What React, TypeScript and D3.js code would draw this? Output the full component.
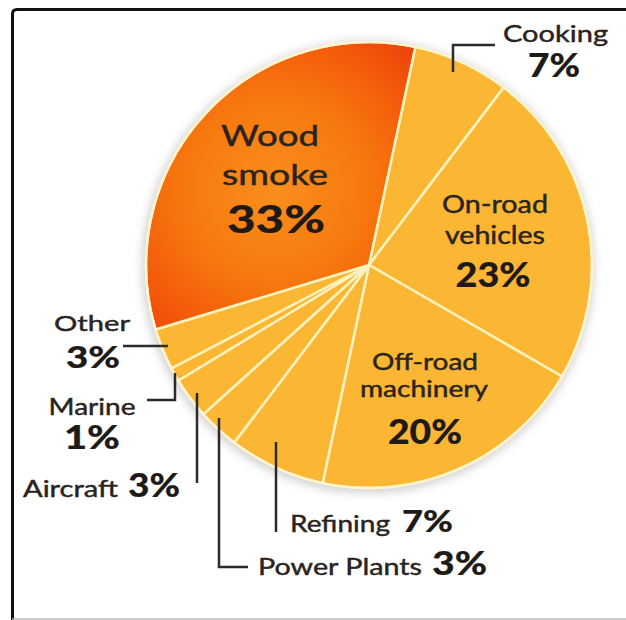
import React from "react";
import * as d3 from "d3";

const categories = [
  "Cooking",
  "On-road vehicles",
  "Off-road machinery",
  "Refining",
  "Power Plants",
  "Aircraft",
  "Marine",
  "Other",
  "Wood smoke",
];
const values = [7, 23, 20, 7, 3, 3, 1, 3, 33];

const W = 626;
const H = 620;
const CX = 369;
const CY = 265;
const R = 223;
const START_DEG = 12;

const FONT = "Lato, 'Open Sans', sans-serif";

type Piece = { t: string; x: number; y: number; w: number; fs: number; bold?: boolean; anchor?: string };

// annotation layout (name lines + percentage) per category, same order as categories
const nameLayout: { lines: { x: number; y: number; w: number; fs: number; anchor?: string }[]; pct: { x: number; y: number; w: number; fs: number; anchor?: string } }[] = [
  { lines: [{ x: 555.5, y: 42, w: 105, fs: 24 }], pct: { x: 554, y: 76.5, w: 52, fs: 33 } },
  { lines: [{ x: 495, y: 213, w: 106, fs: 25 }, { x: 495, y: 244, w: 100, fs: 25 }], pct: { x: 493, y: 287, w: 75, fs: 34 } },
  { lines: [{ x: 425, y: 370, w: 106, fs: 24 }, { x: 424, y: 397, w: 128, fs: 23 }], pct: { x: 425, y: 444, w: 74, fs: 34 } },
  { lines: [{ x: 290, y: 532, w: 100, fs: 24, anchor: "start" }], pct: { x: 402, y: 532, w: 51, fs: 31, anchor: "start" } },
  { lines: [{ x: 258, y: 575, w: 164, fs: 24, anchor: "start" }], pct: { x: 432, y: 575, w: 55, fs: 33, anchor: "start" } },
  { lines: [{ x: 23, y: 497, w: 95, fs: 24, anchor: "start" }], pct: { x: 128, y: 497, w: 52, fs: 33, anchor: "start" } },
  { lines: [{ x: 92, y: 415, w: 87, fs: 23 }], pct: { x: 92, y: 449, w: 56, fs: 32 } },
  { lines: [{ x: 92, y: 331, w: 76, fs: 22 }], pct: { x: 93, y: 367.5, w: 54, fs: 31 } },
  { lines: [{ x: 270, y: 146, w: 98, fs: 29 }, { x: 275, y: 185, w: 106, fs: 29 }], pct: { x: 276, y: 233, w: 98, fs: 37 } },
];

const lineBreaks: Record<string, string[]> = {
  "On-road vehicles": ["On-road", "vehicles"],
  "Off-road machinery": ["Off-road", "machinery"],
  "Wood smoke": ["Wood", "smoke"],
};

const leaders: string[] = [
  "M453,72 V45 H495",
  "",
  "",
  "M276,442 V532",
  "M219,418 V567 H248",
  "M197,393 V483",
  "M147,400 H175 V373",
  "M123,346 H168",
  "",
];

function Txt({ p }: { p: Piece }) {
  const col = p.bold ? "#1e1a17" : "#2a2421";
  return (
    <text
      x={p.x}
      y={p.y}
      textAnchor={p.anchor || "middle"}
      fontSize={p.fs}
      fontWeight={p.bold ? 900 : 400}
      fontFamily={FONT}
      fill={col}
      stroke={col}
      strokeWidth={p.bold ? 0.2 : 0.45}
      textLength={p.w}
      lengthAdjust="spacingAndGlyphs"
    >
      {p.t}
    </text>
  );
}

export default function App() {
  const rad = (d: number) => (d * Math.PI) / 180;
  const pie = d3
    .pie<number>()
    .sort(null)
    .value((d) => d)
    .startAngle(rad(START_DEG))
    .endAngle(rad(START_DEG + 360));
  const arcs = pie(values);
  const arcGen = d3.arc<d3.PieArcDatum<number>>().innerRadius(0).outerRadius(R);

  const fillFor = (i: number) => (categories[i] === "Wood smoke" ? "url(#woodGrad)" : "#FBB733");

  return (
    <svg width={W} height={H} style={{ position: "absolute", left: 0, top: 0, background: "#fff" }}>
      <defs>
        <radialGradient id="woodGrad" gradientUnits="userSpaceOnUse" cx={275 - CX} cy={190 - CY} r={205}>
          <stop offset="0" stopColor="#F98F1C" />
          <stop offset="0.45" stopColor="#F7780E" />
          <stop offset="0.75" stopColor="#F35A0A" />
          <stop offset="1" stopColor="#EC400C" />
        </radialGradient>
        <filter id="shadow" x="-20%" y="-20%" width="140%" height="140%">
          <feGaussianBlur stdDeviation="5" />
        </filter>
      </defs>
      <rect x={0} y={0} width={W} height={H} fill="#fff" />
      {/* frame */}
      <path d={`M12.5,${H} V14 Q12.5,9.5 17,9.5 H${W}`} fill="none" stroke="#111" strokeWidth={3} />
      <line x1={12} x2={W} y1={H - 1} y2={H - 1} stroke="#bbb" strokeWidth={1.5} />
      {/* shadow */}
      <circle cx={CX - 1} cy={CY + 2} r={R + 3} fill="#9a9a9a" opacity={0.45} filter="url(#shadow)" />
      <g transform={`translate(${CX},${CY})`}>
        {arcs.map((a, i) => (
          <path key={categories[i]} d={arcGen(a) || ""} fill={fillFor(i)} stroke="#FFF2BE" strokeWidth={2.5} strokeLinejoin="round" />
        ))}
        <circle r={R} fill="none" stroke="#FFF4CF" strokeWidth={2.5} />
      </g>
      {/* leaders */}
      {leaders.map((d, i) => (d ? <path key={"l" + i} d={d} fill="none" stroke="#2b2b2b" strokeWidth={2.5} /> : null))}
      {/* labels */}
      {categories.map((c, i) => {
        const names = lineBreaks[c] || [c];
        const L = nameLayout[i];
        return (
          <g key={"t" + c}>
            {names.map((n, j) => (
              <Txt key={j} p={{ t: n, ...L.lines[j] }} />
            ))}
            <Txt p={{ t: `${values[i]}%`, ...L.pct, bold: true }} />
          </g>
        );
      })}
    </svg>
  );
}
